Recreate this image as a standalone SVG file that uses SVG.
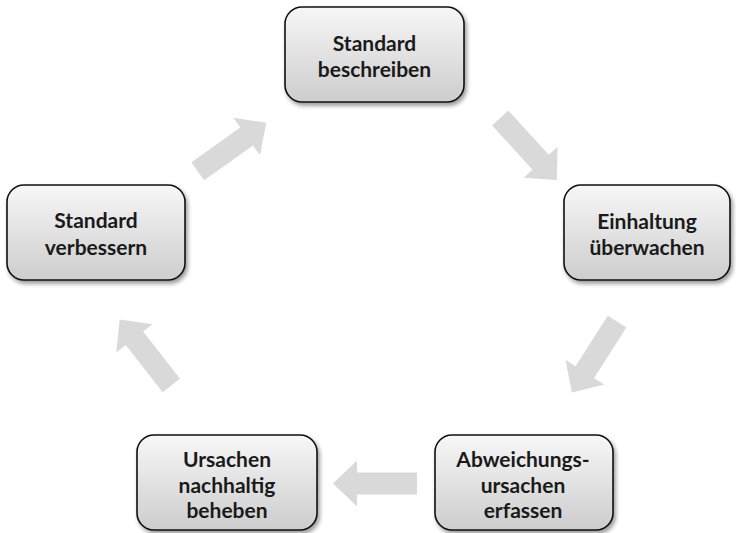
<svg xmlns="http://www.w3.org/2000/svg" xmlns:xlink="http://www.w3.org/1999/xlink" width="736" height="533" viewBox="0 0 736 533">
  <defs>
    <linearGradient id="boxFill" x1="0" y1="0" x2="0" y2="1">
      <stop offset="0" stop-color="#f7f7f7"/>
      <stop offset="1" stop-color="#cdcdcd"/>
    </linearGradient>
    <filter id="shadow" x="-10%" y="-10%" width="125%" height="130%">
      <feDropShadow dx="2" dy="3" stdDeviation="2" flood-color="#000" flood-opacity="0.4"/>
    </filter>
    <!-- block arrow pointing right, 84 long, centred on its own midpoint -->
    <polygon id="blockArrow" points="-42,-11 18,-11 18,-23 42,0 18,23 18,11 -42,11"/>
  </defs>
  <style>
    .box { fill: url(#boxFill); stroke: #111; stroke-width: 1.6; filter: url(#shadow); }
    .label { font-family: Lato, "Liberation Sans", sans-serif; font-weight: bold; font-size: 21px; fill: #1a1a1a; text-anchor: middle; }
    .arrow { fill: #d9d9d9; }
  </style>

  <g id="connectors">
    <use xlink:href="#blockArrow" class="arrow" transform="translate(232,147) rotate(-35.4)"/>
    <use xlink:href="#blockArrow" class="arrow" transform="translate(528.5,149) rotate(47.6)"/>
    <use xlink:href="#blockArrow" class="arrow" transform="translate(594.5,357) rotate(122.5)"/>
    <use xlink:href="#blockArrow" class="arrow" transform="translate(375,483.5) rotate(180)"/>
    <use xlink:href="#blockArrow" class="arrow" transform="translate(145.5,352.5) rotate(-128)"/>
  </g>

  <g id="node-standard-beschreiben">
    <rect class="box" x="285" y="7" width="179" height="95" rx="17"/>
    <text class="label" x="374.5" y="50.5">Standard</text>
    <text class="label" x="374.5" y="76.5">beschreiben</text>
  </g>

  <g id="node-einhaltung">
    <rect class="box" x="564" y="185" width="166" height="95" rx="17"/>
    <text class="label" x="647" y="229">Einhaltung</text>
    <text class="label" x="647" y="255">überwachen</text>
  </g>

  <g id="node-abweichungsursachen">
    <rect class="box" x="435" y="435" width="178" height="95" rx="17"/>
    <text class="label" x="523" y="467">Abweichungs-</text>
    <text class="label" x="523" y="492.5">ursachen</text>
    <text class="label" x="523" y="518">erfassen</text>
  </g>

  <g id="node-ursachen-beheben">
    <rect class="box" x="137" y="435" width="180" height="95" rx="17"/>
    <text class="label" x="227" y="467">Ursachen</text>
    <text class="label" x="227" y="492.5">nachhaltig</text>
    <text class="label" x="227" y="518">beheben</text>
  </g>

  <g id="node-standard-verbessern">
    <rect class="box" x="7" y="185" width="178" height="95" rx="17"/>
    <text class="label" x="96" y="228">Standard</text>
    <text class="label" x="96" y="255">verbessern</text>
  </g>
</svg>
